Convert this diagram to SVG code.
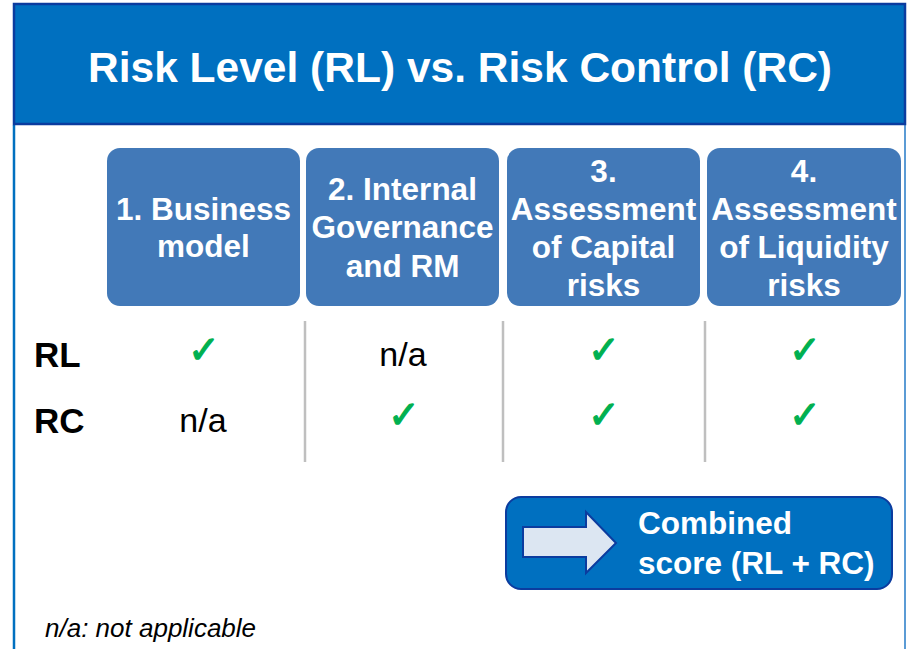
<svg xmlns="http://www.w3.org/2000/svg" width="910" height="649" viewBox="0 0 910 649">
<style>
text{font-family:"Liberation Sans",Arial,sans-serif;}
.hb{fill:#4279B8;}
.ht{font-weight:bold;font-size:31.5px;fill:#fff;text-anchor:middle;}
.rowl{font-weight:bold;font-size:35px;fill:#000;}
.na{font-size:34px;fill:#000;text-anchor:middle;}
.ck{font-family:"DejaVu Sans",sans-serif;font-size:38px;fill:#00B050;stroke:#00B050;stroke-width:1.2;text-anchor:middle;}
.sep{stroke:#BFBFBF;stroke-width:2.5;}
.cb{font-weight:bold;font-size:31.5px;fill:#fff;}
</style>
<rect width="910" height="649" fill="#fff"/>
<line x1="14" y1="125" x2="14" y2="649" stroke="#0070C0" stroke-width="2.5"/>
<line x1="905" y1="125" x2="905" y2="649" stroke="#5B9BD5" stroke-width="2"/>
<g id="header">
<rect x="14" y="4" width="891" height="120" fill="#0070C0" stroke="#0B3C9F" stroke-width="2.5"/>
<text x="460" y="82" font-weight="bold" font-size="42.5" fill="#fff" text-anchor="middle" textLength="744" lengthAdjust="spacingAndGlyphs">Risk Level (RL) vs. Risk Control (RC)</text>
</g>
<g id="col1">
<rect class="hb" x="107" y="148" width="193" height="158" rx="13"/>
<text class="ht" x="203.5" y="220">1. Business</text>
<text class="ht" x="203.5" y="257">model</text>
</g>
<g id="col2">
<rect class="hb" x="306" y="148" width="193" height="158" rx="13"/>
<text class="ht" x="402.5" y="200">2. Internal</text>
<text class="ht" x="402.5" y="238">Governance</text>
<text class="ht" x="402.5" y="277">and RM</text>
</g>
<g id="col3">
<rect class="hb" x="507" y="148" width="193" height="158" rx="13"/>
<text class="ht" x="603.5" y="182">3.</text>
<text class="ht" x="603.5" y="220">Assessment</text>
<text class="ht" x="603.5" y="258">of Capital</text>
<text class="ht" x="603.5" y="296">risks</text>
</g>
<g id="col4">
<rect class="hb" x="707" y="148" width="194" height="158" rx="13"/>
<text class="ht" x="804" y="182">4.</text>
<text class="ht" x="804" y="220">Assessment</text>
<text class="ht" x="804" y="258">of Liquidity</text>
<text class="ht" x="804" y="296">risks</text>
</g>
<g id="separators">
<line class="sep" x1="305" y1="321" x2="305" y2="462"/>
<line class="sep" x1="503" y1="321" x2="503" y2="462"/>
<line class="sep" x1="705" y1="321" x2="705" y2="462"/>
</g>
<g id="rowRL">
<text class="rowl" x="34" y="367">RL</text>
<text class="ck" x="204" y="363">✓</text>
<text class="na" x="403" y="366">n/a</text>
<text class="ck" x="604" y="363">✓</text>
<text class="ck" x="805" y="363">✓</text>
</g>
<g id="rowRC">
<text class="rowl" x="34" y="433">RC</text>
<text class="na" x="203" y="432">n/a</text>
<text class="ck" x="404" y="428">✓</text>
<text class="ck" x="604" y="428">✓</text>
<text class="ck" x="805" y="428">✓</text>
</g>
<g id="combined">
<rect x="506" y="497" width="386" height="92" rx="15" fill="#0070C0" stroke="#0B3C9F" stroke-width="2"/>
<path d="M523,527 H586 V512 L616,543 L586,573 V557 H523 Z" fill="#DCE6F2" stroke="#0B3C9F" stroke-width="2"/>
<text class="cb" x="638" y="534">Combined</text>
<text class="cb" x="638" y="574">score (RL + RC)</text>
</g>
<text x="45" y="637" font-style="italic" font-size="26" fill="#000">n/a: not applicable</text>
</svg>
